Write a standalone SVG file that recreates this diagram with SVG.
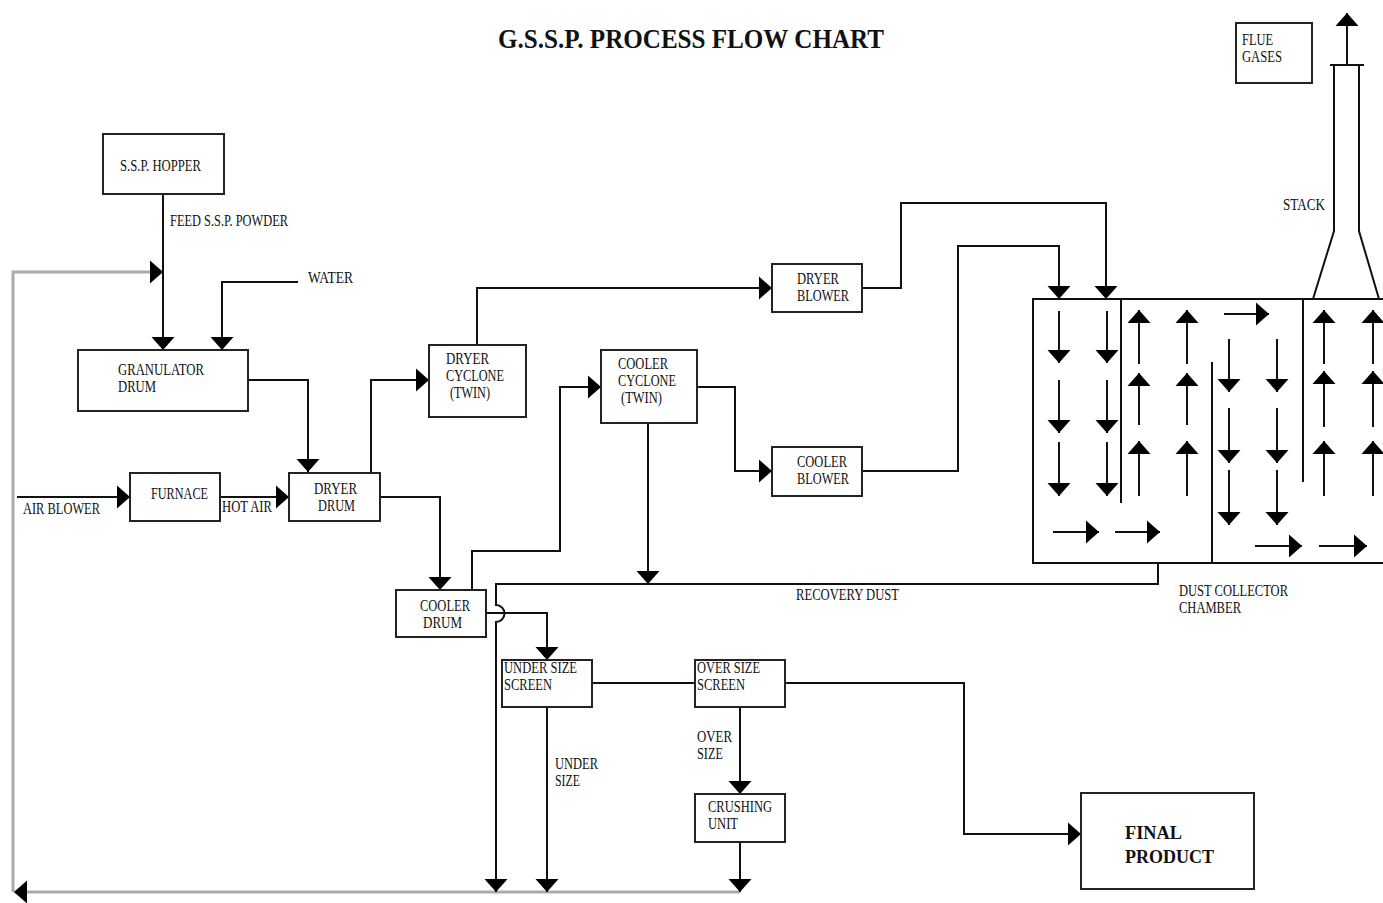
<svg xmlns="http://www.w3.org/2000/svg" width="1383" height="903" viewBox="0 0 1383 903">
<style>
.box{fill:#fff;stroke:#222;stroke-width:2}
.ln{fill:none;stroke:#111;stroke-width:2}
.gr{fill:none;stroke:#aaa;stroke-width:3}
.t{font-family:"Liberation Serif","Times New Roman",serif;font-size:16px;fill:#111}
.tb{font-family:"Liberation Serif","Times New Roman",serif;font-weight:bold;fill:#111}
</style>
<defs>
<marker id="ah" markerUnits="userSpaceOnUse" markerWidth="14" markerHeight="24" refX="13" refY="11.5" orient="auto" overflow="visible">
<path d="M0,0 L13,11.5 L0,23 z" fill="#000"/>
</marker>
</defs>
<rect width="1383" height="903" fill="#fff"/>
<text class="tb" x="498" y="48" font-size="27" textLength="386" lengthAdjust="spacingAndGlyphs">G.S.S.P. PROCESS FLOW CHART</text>

<g id="connectors">
<path class="gr" d="M740,892 H14" marker-end="url(#ah)"/>
<path class="gr" d="M13,892 V272 H163" marker-end="url(#ah)"/>
<path class="ln" d="M163,194 V350" marker-end="url(#ah)"/>
<path class="ln" d="M298,282 H222 V350" marker-end="url(#ah)"/>
<path class="ln" d="M248,380 H308 V472" marker-end="url(#ah)"/>
<path class="ln" d="M17,497 H130" marker-end="url(#ah)"/>
<path class="ln" d="M220,497 H289" marker-end="url(#ah)"/>
<path class="ln" d="M371,477 V380 H429" marker-end="url(#ah)"/>
<path class="ln" d="M380,497 H440 V590" marker-end="url(#ah)"/>
<path class="ln" d="M477,345 V288 H772" marker-end="url(#ah)"/>
<path class="ln" d="M862,288 H901 V203 H1106 V299" marker-end="url(#ah)"/>
<path class="ln" d="M472,590 V551 H560 V387 H601" marker-end="url(#ah)"/>
<path class="ln" d="M697,387 H735 V471 H772" marker-end="url(#ah)"/>
<path class="ln" d="M862,471 H958 V246 H1059 V299" marker-end="url(#ah)"/>
<path class="ln" d="M648,423 V584" marker-end="url(#ah)"/>
<path class="ln" d="M1158,563 V584 H496 V605 A8.5,8.5 0 0 1 496,622 V892" marker-end="url(#ah)"/>
<path class="ln" d="M486,613 H547 V660" marker-end="url(#ah)"/>
<path class="ln" d="M592,683 H695"/>
<path class="ln" d="M547,707 V892" marker-end="url(#ah)"/>
<path class="ln" d="M740,707 V794" marker-end="url(#ah)"/>
<path class="ln" d="M740,842 V892" marker-end="url(#ah)"/>
<path class="ln" d="M785,683 H964 V834 H1081" marker-end="url(#ah)"/>
<path class="ln" d="M1347,65 V13" marker-end="url(#ah)"/>
</g>

<g id="labels">
<text class="t" x="170" y="226" textLength="118" lengthAdjust="spacingAndGlyphs">FEED S.S.P. POWDER</text>
<text class="t" x="308" y="283" textLength="45" lengthAdjust="spacingAndGlyphs">WATER</text>
<text class="t" x="23" y="514" textLength="77" lengthAdjust="spacingAndGlyphs">AIR BLOWER</text>
<text class="t" x="222" y="512" textLength="50" lengthAdjust="spacingAndGlyphs">HOT AIR</text>
<text class="t" x="796" y="600" textLength="103" lengthAdjust="spacingAndGlyphs">RECOVERY DUST</text>
<text class="t" x="555" y="769" textLength="43" lengthAdjust="spacingAndGlyphs">UNDER</text>
<text class="t" x="555" y="786" textLength="25" lengthAdjust="spacingAndGlyphs">SIZE</text>
<text class="t" x="697" y="742" textLength="35" lengthAdjust="spacingAndGlyphs">OVER</text>
<text class="t" x="697" y="759" textLength="26" lengthAdjust="spacingAndGlyphs">SIZE</text>
<text class="t" x="1179" y="596" textLength="109" lengthAdjust="spacingAndGlyphs">DUST COLLECTOR</text>
<text class="t" x="1179" y="613" textLength="62" lengthAdjust="spacingAndGlyphs">CHAMBER</text>
<text class="t" x="1283" y="210" textLength="42" lengthAdjust="spacingAndGlyphs">STACK</text>
</g>

<g id="hopper">
<rect class="box" x="103" y="134" width="121" height="60"/>
<text class="t" x="120" y="171" textLength="81" lengthAdjust="spacingAndGlyphs">S.S.P. HOPPER</text>
</g>
<g id="granulator">
<rect class="box" x="78" y="350" width="170" height="61"/>
<text class="t" x="118" y="375" textLength="86" lengthAdjust="spacingAndGlyphs">GRANULATOR</text>
<text class="t" x="118" y="392" textLength="38" lengthAdjust="spacingAndGlyphs">DRUM</text>
</g>
<g id="furnace">
<rect class="box" x="130" y="473" width="90" height="48"/>
<text class="t" x="151" y="499" textLength="57" lengthAdjust="spacingAndGlyphs">FURNACE</text>
</g>
<g id="dryer-drum">
<rect class="box" x="289" y="473" width="91" height="48"/>
<text class="t" x="314" y="494" textLength="43" lengthAdjust="spacingAndGlyphs">DRYER</text>
<text class="t" x="318" y="511" textLength="37" lengthAdjust="spacingAndGlyphs">DRUM</text>
</g>
<g id="dryer-cyclone">
<rect class="box" x="429" y="345" width="97" height="72"/>
<text class="t" x="446" y="364" textLength="43" lengthAdjust="spacingAndGlyphs">DRYER</text>
<text class="t" x="446" y="381" textLength="58" lengthAdjust="spacingAndGlyphs">CYCLONE</text>
<text class="t" x="450" y="398" textLength="40" lengthAdjust="spacingAndGlyphs">(TWIN)</text>
</g>
<g id="cooler-cyclone">
<rect class="box" x="601" y="350" width="96" height="73"/>
<text class="t" x="618" y="369" textLength="50" lengthAdjust="spacingAndGlyphs">COOLER</text>
<text class="t" x="618" y="386" textLength="58" lengthAdjust="spacingAndGlyphs">CYCLONE</text>
<text class="t" x="621" y="403" textLength="41" lengthAdjust="spacingAndGlyphs">(TWIN)</text>
</g>
<g id="dryer-blower">
<rect class="box" x="772" y="264" width="90" height="48"/>
<text class="t" x="797" y="284" textLength="42" lengthAdjust="spacingAndGlyphs">DRYER</text>
<text class="t" x="797" y="301" textLength="52" lengthAdjust="spacingAndGlyphs">BLOWER</text>
</g>
<g id="cooler-blower">
<rect class="box" x="772" y="447" width="90" height="49"/>
<text class="t" x="797" y="467" textLength="50" lengthAdjust="spacingAndGlyphs">COOLER</text>
<text class="t" x="797" y="484" textLength="52" lengthAdjust="spacingAndGlyphs">BLOWER</text>
</g>
<g id="cooler-drum">
<rect class="box" x="396" y="590" width="90" height="47"/>
<text class="t" x="420" y="611" textLength="50" lengthAdjust="spacingAndGlyphs">COOLER</text>
<text class="t" x="423" y="628" textLength="39" lengthAdjust="spacingAndGlyphs">DRUM</text>
</g>
<g id="under-size-screen">
<rect class="box" x="502" y="660" width="90" height="47"/>
<text class="t" x="504" y="673" textLength="73" lengthAdjust="spacingAndGlyphs">UNDER SIZE</text>
<text class="t" x="504" y="690" textLength="48" lengthAdjust="spacingAndGlyphs">SCREEN</text>
</g>
<g id="over-size-screen">
<rect class="box" x="695" y="660" width="90" height="47"/>
<text class="t" x="697" y="673" textLength="63" lengthAdjust="spacingAndGlyphs">OVER SIZE</text>
<text class="t" x="697" y="690" textLength="48" lengthAdjust="spacingAndGlyphs">SCREEN</text>
</g>
<g id="crushing-unit">
<rect class="box" x="695" y="794" width="90" height="48"/>
<text class="t" x="708" y="812" textLength="64" lengthAdjust="spacingAndGlyphs">CRUSHING</text>
<text class="t" x="708" y="829" textLength="30" lengthAdjust="spacingAndGlyphs">UNIT</text>
</g>
<g id="final-product">
<rect class="box" x="1081" y="793" width="173" height="96"/>
<text class="tb" x="1125" y="839" font-size="19" textLength="57" lengthAdjust="spacingAndGlyphs">FINAL</text>
<text class="tb" x="1125" y="863" font-size="19" textLength="89" lengthAdjust="spacingAndGlyphs">PRODUCT</text>
</g>
<g id="flue-gases">
<rect class="box" x="1236" y="23" width="76" height="60"/>
<text class="t" x="1242" y="45" textLength="31" lengthAdjust="spacingAndGlyphs">FLUE</text>
<text class="t" x="1242" y="62" textLength="40" lengthAdjust="spacingAndGlyphs">GASES</text>
</g>
<g id="stack">
<path class="ln" d="M1313,299 L1334,231 V65 M1379,299 L1359,231 V65 M1330,65 H1364"/>
</g>
<g id="dust-collector">
<path class="ln" d="M1383,299 H1033 V563 H1383"/>
<path class="ln" d="M1121,299 V503 M1212,362 V563 M1303,299 V482"/>
<g class="ln">
<path d="M1059,311 V363" marker-end="url(#ah)"/>
<path d="M1059,380 V433" marker-end="url(#ah)"/>
<path d="M1059,442 V496" marker-end="url(#ah)"/>
<path d="M1107,311 V363" marker-end="url(#ah)"/>
<path d="M1107,380 V433" marker-end="url(#ah)"/>
<path d="M1107,442 V496" marker-end="url(#ah)"/>
<path d="M1139,364 V310" marker-end="url(#ah)"/>
<path d="M1139,425 V373" marker-end="url(#ah)"/>
<path d="M1139,496 V441" marker-end="url(#ah)"/>
<path d="M1187,364 V310" marker-end="url(#ah)"/>
<path d="M1187,425 V373" marker-end="url(#ah)"/>
<path d="M1187,496 V441" marker-end="url(#ah)"/>
<path d="M1224,314 H1269" marker-end="url(#ah)"/>
<path d="M1229,339 V392" marker-end="url(#ah)"/>
<path d="M1229,408 V463" marker-end="url(#ah)"/>
<path d="M1229,470 V525" marker-end="url(#ah)"/>
<path d="M1277,339 V392" marker-end="url(#ah)"/>
<path d="M1277,408 V463" marker-end="url(#ah)"/>
<path d="M1277,470 V525" marker-end="url(#ah)"/>
<path d="M1324,364 V310" marker-end="url(#ah)"/>
<path d="M1324,427 V371" marker-end="url(#ah)"/>
<path d="M1324,496 V441" marker-end="url(#ah)"/>
<path d="M1373,364 V310" marker-end="url(#ah)"/>
<path d="M1373,427 V371" marker-end="url(#ah)"/>
<path d="M1373,496 V441" marker-end="url(#ah)"/>
<path d="M1053,532 H1099" marker-end="url(#ah)"/>
<path d="M1115,532 H1160" marker-end="url(#ah)"/>
<path d="M1255,546 H1302" marker-end="url(#ah)"/>
<path d="M1319,546 H1367" marker-end="url(#ah)"/>
</g>
</g>
</svg>
